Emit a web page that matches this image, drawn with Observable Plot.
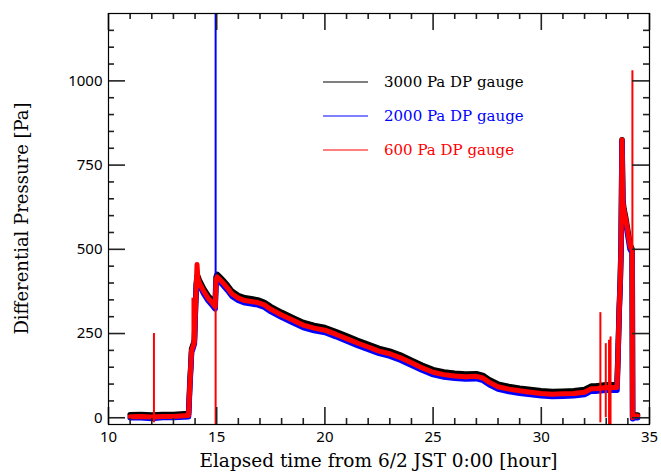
<!DOCTYPE html>
<html>
<head>
<meta charset="utf-8">
<script src="https://cdn.jsdelivr.net/npm/d3@7"></script>
<script src="https://cdn.jsdelivr.net/npm/@observablehq/plot@0.6"></script>
<style>
  html, body { margin: 0; padding: 0; background: white; }
</style>
</head>
<body>
<div id="chart"></div>
<script>
// ---- data ----
const hours = [11.0, 11.5, 12.0, 12.5, 13.0, 13.5, 13.7, 13.76, 13.8, 13.84, 13.9, 13.97, 14.02, 14.06, 14.09, 14.13, 14.2, 14.4, 14.6, 14.8, 14.93, 14.97, 15.02, 15.15, 15.3, 15.5, 15.7, 16.0, 16.3, 16.6, 16.9, 17.2, 17.5, 18.0, 18.5, 19.0, 19.5, 20.0, 20.5, 21.0, 21.5, 22.0, 22.5, 23.0, 23.5, 24.0, 24.5, 25.0, 25.5, 26.0, 26.5, 27.0, 27.3, 27.6, 28.0, 28.5, 29.0, 29.5, 30.0, 30.5, 31.0, 31.5, 32.0, 32.3, 32.5, 33.0, 33.5, 33.55, 33.6, 33.65, 33.69, 33.73, 33.77, 33.82, 33.9, 34.0, 34.1, 34.2, 34.22, 34.3, 34.45];
const p3000 = [9, 10, 8, 10, 10, 12, 12, 105, 150, 205, 215, 230, 330, 400, 420, 420, 408, 383, 363, 348, 338, 418, 426, 418, 408, 393, 376, 363, 356, 353, 350, 343, 330, 313, 298, 283, 274, 268, 256, 243, 230, 218, 206, 198, 186, 171, 156, 143, 136, 132, 130, 131, 126, 113, 100, 93, 88, 84, 80, 78, 79, 80, 84, 94, 94, 98, 98, 200, 320, 410, 520, 825, 645, 620, 595, 555, 515, 500, 5, 8, 8];
const p2000 = [0, 0, -2, 1, 1, 2, 3, 95, 145, 195, 205, 220, 325, 395, 410, 408, 393, 368, 348, 333, 323, 403, 411, 403, 393, 378, 361, 348, 341, 338, 335, 328, 315, 298, 283, 268, 259, 253, 241, 228, 215, 203, 191, 183, 171, 156, 141, 128, 121, 117, 115, 116, 111, 98, 85, 78, 73, 69, 65, 63, 64, 65, 69, 79, 79, 82, 82, 195, 315, 405, 515, 820, 630, 605, 580, 540, 500, 490, -3, 0, 0];
const p600 = [3, 4, 2, 4, 4, 6, 7, 100, 150, 200, 210, 225, 330, 400, 455, 415, 400, 375, 355, 340, 330, 410, 418, 410, 400, 385, 368, 355, 348, 345, 342, 335, 322, 305, 290, 275, 266, 260, 248, 235, 222, 210, 198, 190, 178, 163, 148, 135, 128, 124, 122, 123, 118, 105, 92, 85, 80, 76, 72, 70, 71, 72, 76, 86, 86, 90, 90, 200, 320, 410, 520, 825, 640, 615, 590, 550, 510, 495, 0, 5, 5];

// short spikes (glitches) in the records; ends that run off the frame are cut at its edge
const spikeHour = [12.1, 13.88, 14.95, 32.73, 32.98, 33.13, 33.2, 34.21, 14.95];
const spikeLow = [-15, 220, -20, -15, 0, -20, -20, 495, 330];
const spikeHigh = [250, 355, 330, 312, 220, 230, 240, 1030, 1200];
const spikeGauge = ["600 Pa", "600 Pa", "600 Pa", "600 Pa", "600 Pa", "600 Pa", "600 Pa", "600 Pa", "2000 Pa"];

const seriesNames = ["3000 Pa DP gauge", "2000 Pa DP gauge", "600 Pa DP gauge"];
const seriesColors = ["#000000", "#0000ff", "#ff0000"];

const xMajor = [10, 15, 20, 25, 30, 35];
const xMinor = [11, 12, 13, 14, 16, 17, 18, 19, 21, 22, 23, 24, 26, 27, 28, 29, 31, 32, 33, 34];
const yMajor = [0, 250, 500, 750, 1000];
const yMinor = [50, 100, 150, 200, 300, 350, 400, 450, 550, 600, 650, 700, 800, 850, 900, 950, 1050, 1100, 1150];

const xTitle = "Elapsed time from 6/2 JST 0:00 [hour]";
const yTitle = "Differential Pressure [Pa]";

// ---- build tables ----
const rows3000 = hours.map((h, i) => ({h, v: p3000[i]}));
const rows2000 = hours.map((h, i) => ({h, v: p2000[i]}));
const rows600 = hours.map((h, i) => ({h, v: p600[i]}));
const spikes = spikeHour.map((h, i) => ({h, lo: spikeLow[i], hi: spikeHigh[i], g: spikeGauge[i]}));

const W = 661, H = 472;
const mL = 108, mR = 12, mT = 13, mB = 48;
const fw = W - mL - mR, fh = H - mT - mB;
const serif = "DejaVu Serif";
const tickColor = "#222";
const tw = 1.6;

const chart = Plot.plot({
  width: W, height: H,
  marginLeft: mL, marginRight: mR, marginTop: mT, marginBottom: mB,
  x: {type: "linear", domain: [10, 35]},
  y: {type: "linear", domain: [-20, 1200]},
  marks: [
    Plot.axisX({ticks: xMajor, tickSize: 0, tickPadding: 7, tickFormat: d => String(d), label: null, fontSize: 15}),
    Plot.axisY({ticks: yMajor, tickSize: 0, tickPadding: 6, tickFormat: d => String(d), label: null, fontSize: 15}),
    // data
    Plot.line(rows3000, {x: "h", y: "v", stroke: seriesColors[0], strokeWidth: 5.5, clip: true}),
    Plot.line(rows2000, {x: "h", y: "v", stroke: seriesColors[1], strokeWidth: 5.5, clip: true}),
    Plot.ruleX(spikes.filter(d => d.g === "2000 Pa"), {x: "h", y1: "lo", y2: "hi", stroke: seriesColors[1], strokeWidth: 2}),
    Plot.line(rows600, {x: "h", y: "v", stroke: seriesColors[2], strokeWidth: 5, clip: true}),
    Plot.ruleX(spikes.filter(d => d.g === "600 Pa"), {x: "h", y1: "lo", y2: "hi", stroke: seriesColors[2], strokeWidth: 2}),
    // inward ticks on all four sides, drawn after the data
    Plot.ruleX(xMajor, {insetTop: fh - 17, stroke: tickColor, strokeWidth: tw}),
    Plot.ruleX(xMajor, {insetBottom: fh - 17, stroke: tickColor, strokeWidth: tw}),
    Plot.ruleX(xMinor, {insetTop: fh - 6, stroke: tickColor, strokeWidth: tw}),
    Plot.ruleX(xMinor, {insetBottom: fh - 6, stroke: tickColor, strokeWidth: tw}),
    Plot.ruleY(yMajor, {insetRight: fw - 17, stroke: tickColor, strokeWidth: tw}),
    Plot.ruleY(yMajor, {insetLeft: fw - 17, stroke: tickColor, strokeWidth: tw}),
    Plot.ruleY(yMinor, {insetRight: fw - 6, stroke: tickColor, strokeWidth: tw}),
    Plot.ruleY(yMinor, {insetLeft: fw - 6, stroke: tickColor, strokeWidth: tw}),
    Plot.frame({stroke: "black", strokeWidth: 1.2})
  ]
});

const svg = d3.select(chart);

// axis titles
svg.append("text").attr("x", mL + fw / 2).attr("y", H - 5)
  .attr("text-anchor", "middle").attr("font-family", serif).attr("font-size", 18.5)
  .attr("fill", "black").text(xTitle);
svg.append("text").attr("transform", `translate(22,${mT + fh / 2}) rotate(-90)`).attr("dy", "0.35em")
  .attr("text-anchor", "middle").attr("font-family", serif).attr("font-size", 18)
  .attr("fill", "black").text(yTitle);

// legend inside the frame (pixel layout)
const leg = svg.append("g").attr("font-family", serif).attr("font-size", 15).attr("text-anchor", "start");
seriesNames.forEach((name, i) => {
  const y = 82 + i * 34;
  leg.append("line").attr("x1", 323).attr("x2", 368).attr("y1", y).attr("y2", y)
     .attr("stroke", seriesColors[i]).attr("stroke-width", 1.2);
  leg.append("text").attr("x", 384).attr("y", y).attr("dy", "0.35em")
     .attr("text-anchor", "start").attr("fill", seriesColors[i]).text(name);
});

document.getElementById("chart").appendChild(chart);
</script>
</body>
</html>
